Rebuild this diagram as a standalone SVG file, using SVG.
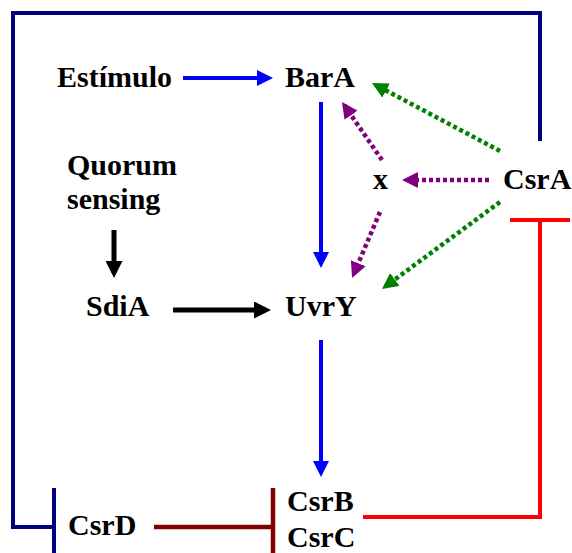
<svg xmlns="http://www.w3.org/2000/svg" width="572" height="553" viewBox="0 0 572 553">
<style>
text{font-family:"Liberation Serif","Times New Roman",serif;font-weight:bold;font-size:30px;fill:#000}
.c{fill:none;stroke-linecap:butt}
.blue{stroke:#0000FF;stroke-width:4}
.blk{stroke:#000;stroke-width:5}
.navy{stroke:#000080;stroke-width:4}
.red{stroke:#FF0000;stroke-width:4}
.mar{stroke:#800000;stroke-width:4.5}
.pur{stroke:#800080;stroke-width:4.5;stroke-dasharray:4 3}
.grn{stroke:#008000;stroke-width:4.5;stroke-dasharray:4 3}
</style>
<defs>
<marker id="ab" markerUnits="userSpaceOnUse" markerWidth="16" markerHeight="16" refX="12" refY="8" orient="auto"><path d="M0,0 L16,8 L0,16 z" fill="#0000FF"/></marker>
<marker id="ak" markerUnits="userSpaceOnUse" markerWidth="17" markerHeight="17" refX="12" refY="8.5" orient="auto"><path d="M0,0 L17,8.5 L0,17 z" fill="#000"/></marker>
<marker id="ap" markerUnits="userSpaceOnUse" markerWidth="16" markerHeight="16" refX="12" refY="8" orient="auto"><path d="M0,0 L16,8 L0,16 z" fill="#800080"/></marker>
<marker id="ag" markerUnits="userSpaceOnUse" markerWidth="16" markerHeight="16" refX="12" refY="8" orient="auto"><path d="M0,0 L16,8 L0,16 z" fill="#008000"/></marker>
</defs>
<g id="connectors">
<path class="c navy" d="M540,141 V13 H13 V527 H54"/>
<line class="c navy" x1="54" y1="488" x2="54" y2="553"/>
<line class="c mar" x1="154" y1="527" x2="273" y2="527"/>
<line class="c mar" x1="273" y1="488" x2="273" y2="553"/>
<path class="c red" d="M363,517 H540 V220"/>
<line class="c red" x1="510" y1="220" x2="570" y2="220"/>
<line class="c blue" x1="183" y1="78" x2="269" y2="78" marker-end="url(#ab)"/>
<line class="c blue" x1="321" y1="102" x2="321" y2="264" marker-end="url(#ab)"/>
<line class="c blue" x1="321" y1="340" x2="321" y2="473" marker-end="url(#ab)"/>
<line class="c blk" x1="114" y1="230" x2="114" y2="273" marker-end="url(#ak)"/>
<line class="c blk" x1="173" y1="310" x2="266" y2="310" marker-end="url(#ak)"/>
<line class="c pur" x1="489" y1="180" x2="406" y2="180" marker-end="url(#ap)"/>
<line class="c pur" x1="382" y1="160" x2="344.3" y2="105.3" marker-end="url(#ap)"/>
<line class="c pur" x1="380" y1="212" x2="353.6" y2="274.3" marker-end="url(#ap)"/>
<line class="c grn" x1="500" y1="151" x2="375.5" y2="84.9" marker-end="url(#ag)"/>
<line class="c grn" x1="500" y1="202" x2="385.2" y2="286.6" marker-end="url(#ag)"/>
</g>
<g id="estimulo"><text x="57" y="87">Estímulo</text></g>
<g id="bara"><text x="285" y="87">BarA</text></g>
<g id="quorum"><text x="67" y="175">Quorum</text><text x="67" y="209">sensing</text></g>
<g id="sdia"><text x="86" y="316">SdiA</text></g>
<g id="uvry"><text x="285" y="316">UvrY</text></g>
<g id="x"><text x="373" y="189">x</text></g>
<g id="csra"><text x="503" y="189">CsrA</text></g>
<g id="csrd"><text x="68" y="535">CsrD</text></g>
<g id="csrbc"><text x="287" y="511">CsrB</text><text x="287" y="547">CsrC</text></g>
</svg>
